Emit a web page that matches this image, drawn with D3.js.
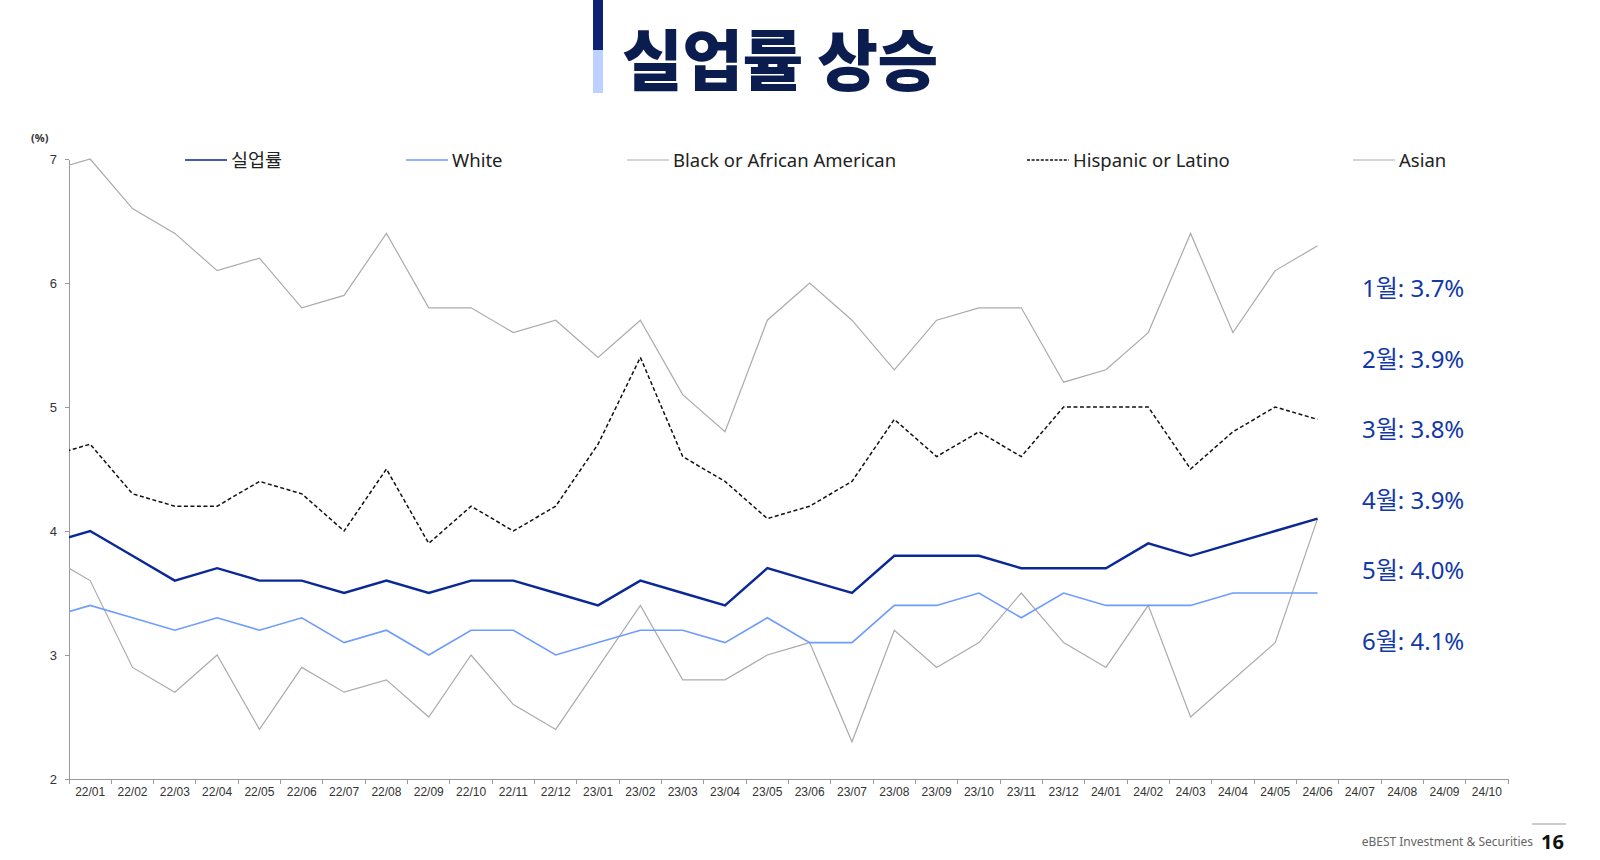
<!DOCTYPE html>
<html>
<head>
<meta charset="utf-8">
<style>
    body{ margin:0; background:#fff; }
    svg{ display:block; font-family:"Noto Sans","Noto Sans CJK KR",sans-serif; }
    .axis path, .axis line{ stroke:#9a9a9a; shape-rendering:crispEdges; }
    .axis text{ fill:#333; font-size:12px; }
    .series{ fill:none; stroke-linejoin:miter; }
</style>
</head>
<body>
<svg class="vis"></svg>
<script src="https://cdn.jsdelivr.net/npm/d3@7/dist/d3.min.js"></script>
<script>

var months = ["22/01","22/02","22/03","22/04","22/05","22/06","22/07","22/08","22/09","22/10","22/11","22/12",
              "23/01","23/02","23/03","23/04","23/05","23/06","23/07","23/08","23/09","23/10","23/11","23/12",
              "24/01","24/02","24/03","24/04","24/05","24/06","24/07","24/08","24/09","24/10"];

// the first value of each list is 21/12, it is cut off by the axis
var total    = [3.9, 4.0,3.8,3.6,3.7,3.6,3.6,3.5,3.6,3.5,3.6,3.6,3.5, 3.4,3.6,3.5,3.4,3.7,3.6,3.5,3.8,3.8,3.8,3.7,3.7, 3.7,3.9,3.8,3.9,4.0,4.1];
var white    = [3.3, 3.4,3.3,3.2,3.3,3.2,3.3,3.1,3.2,3.0,3.2,3.2,3.0, 3.1,3.2,3.2,3.1,3.3,3.1,3.1,3.4,3.4,3.5,3.3,3.5, 3.4,3.4,3.4,3.5,3.5,3.5];
var black    = [6.9, 7.0,6.6,6.4,6.1,6.2,5.8,5.9,6.4,5.8,5.8,5.6,5.7, 5.4,5.7,5.1,4.8,5.7,6.0,5.7,5.3,5.7,5.8,5.8,5.2, 5.3,5.6,6.4,5.6,6.1,6.3];
var hispanic = [4.6, 4.7,4.3,4.2,4.2,4.4,4.3,4.0,4.5,3.9,4.2,4.0,4.2, 4.7,5.4,4.6,4.4,4.1,4.2,4.4,4.9,4.6,4.8,4.6,5.0, 5.0,5.0,4.5,4.8,5.0,4.9];
var asian    = [3.8, 3.6,2.9,2.7,3.0,2.4,2.9,2.7,2.8,2.5,3.0,2.6,2.4, 2.9,3.4,2.8,2.8,3.0,3.1,2.3,3.2,2.9,3.1,3.5,3.1, 2.9,3.4,2.5,2.8,3.1,4.1];

var yTicks = [2,3,4,5,6,7];
var notes = ["1월: 3.7%","2월: 3.9%","3월: 3.8%","4월: 3.9%","5월: 4.0%","6월: 4.1%"];

var series = [
    {name:"실업률", values: total, color:"#0a2896", width:2.4, dash:null, lx:185},
    {name:"White", values: white, color:"#6e9bff", width:1.6, dash:null, lx:406},
    {name:"Black or African American", values: black, color:"#ababab", width:1.2, dash:null, lx:627},
    {name:"Hispanic or Latino", values: hispanic, color:"#111", width:1.5, dash:"4,2.5", lx:1027},
    {name:"Asian", values: asian, color:"#ababab", width:1.2, dash:null, lx:1353}
];

var width = 1600, height = 860;
var plotLeft = 69, plotRight = 1508, plotTop = 159, plotBottom = 779;

var vis = d3.select("svg.vis").attr("width", width).attr("height", height);

var x = d3.scaleBand().domain(months).range([plotLeft, plotRight]);
var bw = x.bandwidth();
var y = d3.scaleLinear().domain([2, 7]).range([plotBottom, plotTop]);

function px(i){
    // i = -1 is the hidden 21/12 point
    if (i < 0) return x(months[0]) - bw / 2;
    return x(months[i]) + bw / 2;
}

// title
vis.append("rect").attr("x", 593).attr("y", 0).attr("width", 10).attr("height", 50).attr("fill", "#0b2372");
vis.append("rect").attr("x", 593).attr("y", 50).attr("width", 10).attr("height", 43).attr("fill", "#bcd1ff");
vis.append("text")
    .attr("x", 622).attr("y", 85)
    .attr("font-family", "'Noto Sans CJK KR'")
    .attr("font-weight", 900)
    .attr("font-size", "66px")
    .attr("letter-spacing", "-0.5px")
    .attr("fill", "#0b1c4f")
    .text("실업률 상승");

// axes
var xAxis = vis.append("g").attr("class", "axis")
    .attr("transform", "translate(0," + plotBottom + ")")
    .call(d3.axisBottom(x).tickSize(0).tickSizeOuter(0).tickPadding(8));

xAxis.selectAll(".bound")
    .data(months.concat(["end"]))
    .enter().append("line")
    .attr("x1", (d, i) => i < months.length ? x(d) : plotRight)
    .attr("x2", (d, i) => i < months.length ? x(d) : plotRight)
    .attr("y1", 0).attr("y2", 5);

vis.append("g").attr("class", "axis")
    .attr("transform", "translate(" + plotLeft + ",0)")
    .call(d3.axisLeft(y).tickValues(yTicks).tickFormat(d3.format("d")).tickSize(4).tickSizeOuter(0).tickPadding(8))
    .selectAll("text").style("font-size", "13px");

vis.append("text").attr("x", 31).attr("y", 142)
    .attr("font-size", "11px").attr("font-weight", "bold").attr("fill", "#333")
    .text("(%)");

// lines
vis.append("clipPath").attr("id", "plot")
    .append("rect").attr("x", plotLeft).attr("y", 0).attr("width", plotRight - plotLeft).attr("height", height);

var line = d3.line()
    .x((d, i) => px(i - 1))
    .y(d => y(d));

var draw = [series[2], series[4], series[3], series[1], series[0]];
vis.append("g").attr("clip-path", "url(#plot)")
    .selectAll("path")
    .data(draw)
    .enter().append("path")
    .attr("class", "series")
    .attr("d", d => line(d.values))
    .attr("stroke", d => d.color)
    .attr("stroke-width", d => d.width)
    .attr("stroke-dasharray", d => d.dash);

// legend
var lg = vis.append("g").selectAll("g").data(series).enter().append("g")
    .attr("transform", d => "translate(" + d.lx + ",160)");
lg.append("line")
    .attr("x1", 0).attr("x2", 42).attr("y1", 0).attr("y2", 0)
    .attr("stroke", d => d.color)
    .attr("stroke-width", d => Math.min(d.width, 1.6))
    .attr("stroke-dasharray", d => d.dash ? "3,1.6" : null);
lg.append("text")
    .attr("x", 46).attr("y", 6.5)
    .attr("font-size", "18.5px")
    .attr("fill", "#222")
    .text(d => d.name);

// month notes
vis.append("g").selectAll("text").data(notes).enter().append("text")
    .attr("x", 1362)
    .attr("y", (d, i) => 297 + i * 70.6)
    .attr("font-size", "24px")
    .attr("fill", "#1238a8")
    .text(d => d);

// footer
vis.append("line").attr("x1", 1532).attr("x2", 1566).attr("y1", 824).attr("y2", 824)
    .attr("stroke", "#999").attr("stroke-width", 1);
vis.append("text").attr("x", 1533).attr("y", 846).attr("text-anchor", "end")
    .attr("font-size", "12px").attr("fill", "#666")
    .text("eBEST Investment & Securities");
vis.append("text").attr("x", 1541).attr("y", 849)
    .attr("font-size", "20px").attr("font-weight", "bold").attr("fill", "#111")
    .text("16");

</script>
</body>
</html>
